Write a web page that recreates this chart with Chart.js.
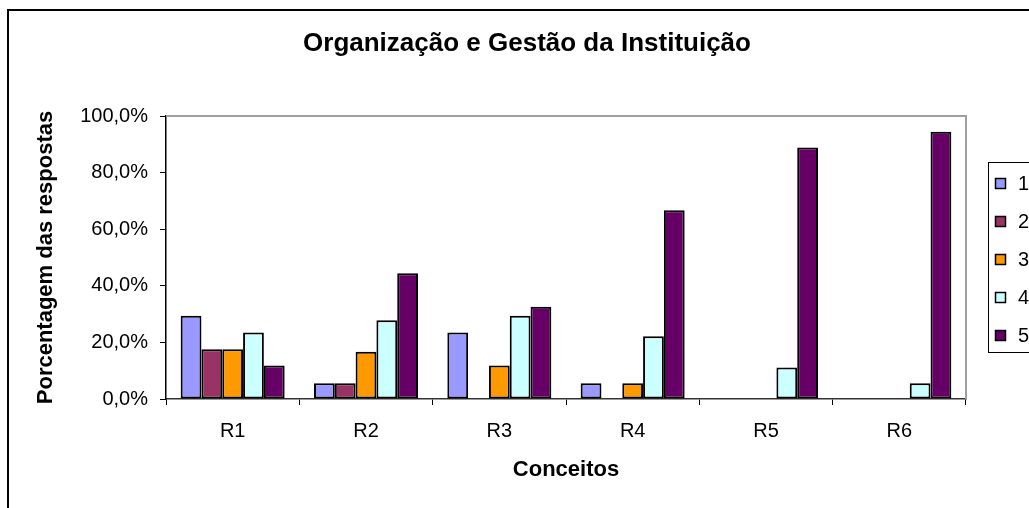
<!DOCTYPE html>
<html>
<head>
<meta charset="utf-8">
<script src="https://cdn.jsdelivr.net/npm/chart.js@4"></script>
<style>
  body { margin: 0; background: #fff; }
</style>
</head>
<body>
<canvas id="grafico" width="1029" height="508"></canvas>
<script>
var titulo = 'Organização e Gestão da Instituição'
var conceitos = ['R1', 'R2', 'R3', 'R4', 'R5', 'R6']
var respostas = ['1', '2', '3', '4', '5']
var cores = ['#9999ff', '#993366', '#ff9900', '#ccffff', '#660066']

// porcentagem por resposta, em cada conceito
var resp1 = [29.4, 5.6, 23.5, 5.6, 0, 0]
var resp2 = [17.6, 5.6, 0, 0, 0, 0]
var resp3 = [17.6, 16.7, 11.8, 5.6, 0, 0]
var resp4 = [23.5, 27.8, 29.4, 22.2, 11.1, 5.6]
var resp5 = [11.8, 44.4, 32.6, 66.7, 88.9, 94.4]
var series = [resp1, resp2, resp3, resp4, resp5]

var fonte = 'Arial, "Liberation Sans", sans-serif'

var datasets = series.map(function(dados, i) {
    return {
        label: respostas[i],
        data: dados,
        backgroundColor: cores[i],
        borderColor: '#000',
        borderWidth: function(ctx) { return ctx.raw === 0 ? 0 : 2 },
        borderSkipped: false
    }
})

// moldura, titulo, borda da area de plotagem e legenda
var moldura = {
    id: 'moldura',
    beforeDraw: function(chart) {
        var ctx = chart.ctx
        ctx.save()
        ctx.fillStyle = '#fff'
        ctx.fillRect(0, 0, chart.width, chart.height)
        ctx.strokeStyle = '#000'
        ctx.lineWidth = 2
        ctx.strokeRect(8, 10, 1100, 600)
        ctx.restore()
    },
    afterDraw: function(chart) {
        var ctx = chart.ctx
        var a = chart.chartArea
        ctx.save()
        ctx.strokeStyle = '#a0a0a0'
        ctx.lineWidth = 2
        ctx.beginPath()
        ctx.moveTo(a.left, a.top)
        ctx.lineTo(a.right, a.top)
        ctx.lineTo(a.right, a.bottom)
        ctx.stroke()

        ctx.fillStyle = '#000'
        ctx.font = 'bold 26px ' + fonte
        ctx.textAlign = 'center'
        ctx.textBaseline = 'middle'
        ctx.fillText(titulo, 527, 44)

        // legenda
        ctx.strokeStyle = '#000'
        ctx.lineWidth = 1
        ctx.strokeRect(988.5, 162.5, 100, 190)
        ctx.font = '20px ' + fonte
        ctx.textAlign = 'left'
        chart.data.datasets.forEach(function(ds, i) {
            var y = 183 + i * 38
            ctx.fillStyle = ds.backgroundColor
            ctx.fillRect(996, y - 4, 9, 9)
            ctx.lineWidth = 1.5
            ctx.strokeRect(995.5, y - 4.5, 10, 10)
            ctx.fillStyle = '#000'
            ctx.fillText(ds.label, 1018, y + 1)
        })
        ctx.restore()
    }
}

new Chart('grafico', {
    type: 'bar',
    data: {
        labels: conceitos,
        datasets: datasets
    },
    plugins: [moldura],
    options: {
        responsive: false,
        animation: false,
        layout: {
            padding: { left: 0, top: 116, right: 63, bottom: 0 }
        },
        datasets: {
            bar: {
                categoryPercentage: 0.78,
                barPercentage: 1
            }
        },
        plugins: {
            legend: { display: false },
            tooltip: { enabled: false }
        },
        scales: {
            x: {
                afterFit: function(scale) { scale.height = 109 },
                grid: {
                    offset: true,
                    drawOnChartArea: false,
                    drawTicks: true,
                    tickLength: 6,
                    color: '#000'
                },
                border: { color: '#333', width: 1.5 },
                ticks: {
                    color: '#000',
                    padding: 14,
                    font: { family: fonte, size: 20 }
                },
                title: {
                    display: true,
                    text: 'Conceitos',
                    color: '#000',
                    font: { family: fonte, size: 22, weight: 'bold' },
                    padding: { bottom: 25 }
                }
            },
            y: {
                min: 0,
                max: 100,
                afterFit: function(scale) { scale.width = 166 },
                grid: {
                    drawOnChartArea: false,
                    drawTicks: true,
                    tickLength: 6,
                    color: '#000'
                },
                border: { color: '#000', width: 1.5 },
                ticks: {
                    stepSize: 20,
                    color: '#000',
                    padding: 12,
                    font: { family: fonte, size: 20 },
                    callback: function(v) {
                        return v.toFixed(1).replace('.', ',') + '%'
                    }
                },
                title: {
                    display: true,
                    text: 'Porcentagem das respostas',
                    color: '#000',
                    font: { family: fonte, size: 22, weight: 'bold' },
                    padding: { top: 33 }
                }
            }
        }
    }
});
</script>
</body>
</html>
